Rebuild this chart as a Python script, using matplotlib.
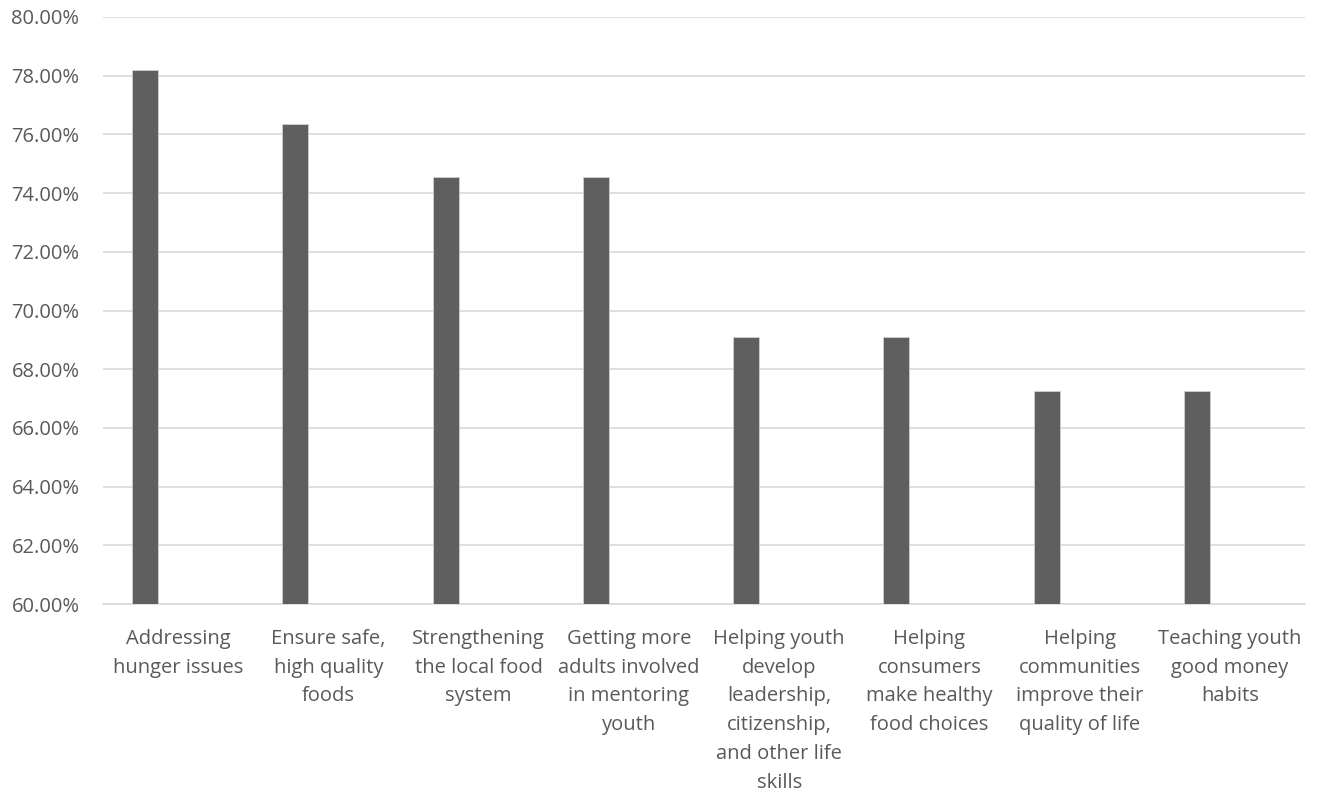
import matplotlib
matplotlib.use("Agg")
import matplotlib.pyplot as plt
import numpy as np
from matplotlib.ticker import FuncFormatter

categories = [
    "Addressing\nhunger issues",
    "Ensure safe,\nhigh quality\nfoods",
    "Strengthening\nthe local food\nsystem",
    "Getting more\nadults involved\nin mentoring\nyouth",
    "Helping youth\ndevelop\nleadership,\ncitizenship,\nand other life\nskills",
    "Helping\nconsumers\nmake healthy\nfood choices",
    "Helping\ncommunities\nimprove their\nquality of life",
    "Teaching youth\ngood money\nhabits",
]
values = [78.18, 76.36, 74.55, 74.55, 69.09, 69.09, 67.27, 67.27]
yticks = [60, 62, 64, 66, 68, 70, 72, 74, 76, 78, 80]

plt.rcParams['font.family'] = ['Open Sans', 'DejaVu Sans']
W, H = 1322, 798
fig = plt.figure(figsize=(W / 100, H / 100), dpi=100)
ax = fig.add_axes([103 / W, 1 - 604 / H, (1305 - 103) / W, (604 - 17) / H])

x = np.arange(len(categories))
ax.bar(x - 0.22, [v - 60 for v in values], bottom=60, width=0.173,
       color="#5f5f5f", edgecolor="#d0d0d0", linewidth=0.6, zorder=3)

ax.set_xlim(-0.5, len(categories) - 0.5)
ax.set_ylim(60, 80)
ax.set_yticks(yticks)
ax.yaxis.set_major_formatter(FuncFormatter(lambda v, p: f"{v:.2f}%"))
ax.grid(axis="y", color="#d9d9d9", linewidth=1.2, zorder=0)
for s in ["top", "right", "left"]:
    ax.spines[s].set_visible(False)
ax.spines["bottom"].set_color("#d9d9d9")
ax.spines["bottom"].set_linewidth(1.2)
ax.set_xticks(x)
ax.set_xticklabels(categories, fontsize=14.5, color="#595959", linespacing=1.58)
ax.tick_params(axis="y", labelsize=14.5, colors="#595959", length=0, pad=17)
ax.tick_params(axis="x", length=0, pad=18)

fig.savefig("out.png", dpi=100, facecolor="white")
